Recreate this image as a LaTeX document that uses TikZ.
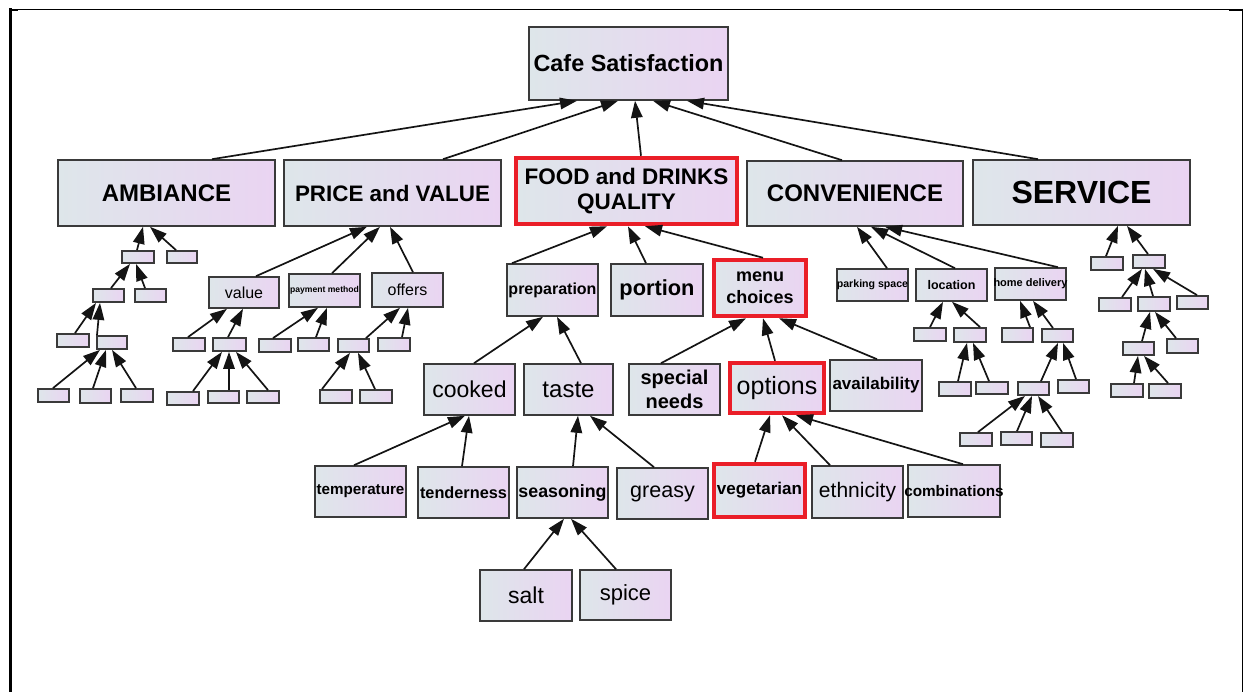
\documentclass[tikz,border=0pt]{standalone}
\usepackage{fontspec}
\setmainfont{Liberation Sans}
\usetikzlibrary{arrows.meta}

\definecolor{boxL}{RGB}{222,230,234}
\definecolor{boxR}{RGB}{234,212,242}
\definecolor{boxline}{RGB}{58,58,58}
\definecolor{hotred}{RGB}{234,30,40}
\definecolor{wire}{RGB}{20,20,20}

% font size in pt with matching leading
\newcommand\fs[1]{\fontsize{#1}{#1}\selectfont}
% text that may spill past its box without widening it
\newcommand\ovl[1]{\makebox[0pt]{#1}}

\tikzset{
  box/.style={draw=boxline, line width=1.6pt, left color=boxL, right color=boxR,
              inner sep=0pt, text=black},
  hot/.style={box, draw=hotred, line width=4.5pt},
  leaf/.style={box, line width=1.8pt},
  % a box given by its left, top, right and bottom edges
  span/.style n args={4}{minimum width={(#3-#1)*1pt}, minimum height={(#4-#2)*1pt},
                         at={({(#1+#3)/2},{(#2+#4)/2})}},
  arr/.style={draw=wire, line width=1.7pt,
              -{Triangle[length=17pt 0 0,width=11.5pt 0 0]}},
}

% small unlabelled box given by its corners
\newcommand\leaf[5]{\node[leaf, span={#2}{#3}{#4}{#5}] (#1) {};}
% arrow from the top of a child to the bottom of its parent
\newcommand\link[4]{\draw[arr] ([xshift=#2pt]#1.north) -- ([xshift=#4pt]#3.south);}

\begin{document}
\begin{tikzpicture}[x=1pt,y=-1pt]
\useasboundingbox (0,0) rectangle (1245,692);

% page frame
\draw[line width=1.2pt] (10,9.5) -- (1243,9.5);
\draw[line width=2.6pt] (10.5,8.5) -- (10.5,692);
\draw[line width=1.6pt] (1242.5,9) -- (1242.5,692);
\draw[line width=2.2pt] (10,9.8) -- (18,9.8);
\draw[line width=2.2pt] (1229,9.8) -- (1243,9.8);

% root and main factors
\node[box, span={529}{27}{728}{100}, font=\bfseries\fs{23.4}] (root) {Cafe Satisfaction};
\node[box, span={58}{160}{275}{226}, font=\bfseries\fs{24}] (amb) {AMBIANCE};
\node[box, span={284}{160}{501}{226}, font=\bfseries\fs{22.4}] (price) {PRICE and VALUE};
\node[hot, span={516}{158}{737}{224}, font=\bfseries\fontsize{22.5}{25}\selectfont, align=center] (food) {FOOD and DRINKS\\QUALITY};
\node[box, span={747}{161}{963}{226}, font=\bfseries\fs{24}] (conv) {CONVENIENCE};
\node[box, span={973}{160}{1190}{225}, font=\bfseries\fs{32}] (serv) {SERVICE};

% food and drinks branch
\node[box, span={507}{264}{598}{316}, font=\bfseries\fs{16}] (prep) {preparation};
\node[box, span={611}{264}{703}{316}, font=\bfseries\fs{21.8}] (portion) {portion};
\node[hot, span={714}{260}{806}{316}, font=\bfseries\fontsize{18}{22}\selectfont, align=center] (menu) {menu\\choices};
\node[box, span={424}{364}{515}{415}, font=\fs{23}] (cooked) {cooked};
\node[box, span={524}{364}{613}{415}, font=\fs{24}] (taste) {taste};
\node[box, span={629}{364}{720}{415}, font=\bfseries\fontsize{20}{24}\selectfont, align=center] (special) {special\\needs};
\node[hot, span={730}{363}{824}{413}, font=\fs{25}] (options) {options};
\node[box, span={830}{360}{922}{411}, font=\bfseries\fs{17}] (avail) {availability};
\node[box, span={315}{466}{406}{517}, font=\bfseries\fs{15.2}] (temp) {temperature};
\node[box, span={418}{467}{509}{518}, font=\bfseries\fs{16.3}] (tender) {tenderness};
\node[box, span={517}{467}{608}{518}, font=\bfseries\fs{17.8}] (season) {seasoning};
\node[box, span={617}{468}{708}{519}, font=\fs{21.5}] (greasy) {greasy};
\node[hot, span={714}{464}{805}{517}, font=\bfseries\fs{17}] (veg) {\ovl{vegetarian}};
\node[box, span={812}{466}{903}{518}, font=\fs{21}] (ethnic) {ethnicity};
\node[box, span={908}{465}{1000}{517}, font=\bfseries\fs{15.3}] (combo) {\ovl{combinations}};
\node[box, span={480}{570}{572}{621}, font=\fs{23}] (salt) {salt};
\node[box, span={580}{570}{671}{620}, font=\fs{22}] (spice) {spice};

% price and value branch
\node[box, span={209}{277}{279}{308}, font=\fs{16}] (value) {value};
\node[box, span={289}{274}{360}{307}, font=\bfseries\fs{8.6}] (paym) {\ovl{payment method}};
\node[box, span={372}{273}{443}{307}, font=\fs{16}] (offers) {offers};
\leaf{p1}{173}{338}{205}{351}
\leaf{p2}{213}{338}{246}{351}
\leaf{p3}{259}{339}{291}{352}
\leaf{p4}{298}{338}{329}{351}
\leaf{p5}{338}{339}{369}{352}
\leaf{p6}{378}{338}{410}{351}
\leaf{p7}{167}{392}{199}{405}
\leaf{p8}{208}{391}{239}{403}
\leaf{p9}{247}{391}{279}{403}
\leaf{p10}{320}{390}{352}{403}
\leaf{p11}{360}{390}{392}{403}

% ambiance branch
\leaf{a1}{122}{251}{154}{263}
\leaf{a2}{167}{251}{197}{263}
\leaf{a3}{93}{289}{124}{302}
\leaf{a4}{135}{289}{166}{302}
\leaf{a5}{57}{334}{89}{347}
\leaf{a6}{97}{336}{127}{349}
\leaf{a7}{38}{389}{69}{402}
\leaf{a8}{80}{389}{111}{403}
\leaf{a9}{121}{389}{153}{402}

% convenience branch
\node[box, span={837}{269}{908}{301}, font=\bfseries\fs{10.6}] (park) {\ovl{parking space}};
\node[box, span={916}{269}{987}{301}, font=\bfseries\fs{12.5}] (loc) {location};
\node[box, span={995}{268}{1066}{300}, font=\bfseries\fs{11}] (home) {\ovl{home delivery}};
\leaf{c1}{914}{328}{946}{341}
\leaf{c2}{954}{328}{986}{342}
\leaf{c3}{1002}{328}{1033}{342}
\leaf{c4}{1042}{329}{1073}{342}
\leaf{c5}{939}{382}{971}{396}
\leaf{c6}{976}{382}{1008}{394}
\leaf{c7}{1018}{382}{1049}{395}
\leaf{c8}{1058}{380}{1089}{393}
\leaf{c9}{960}{433}{992}{446}
\leaf{c10}{1001}{432}{1032}{445}
\leaf{c11}{1041}{433}{1073}{447}

% service branch
\leaf{s1}{1091}{257}{1123}{270}
\leaf{s2}{1133}{255}{1165}{268}
\leaf{s3}{1099}{298}{1131}{311}
\leaf{s4}{1138}{297}{1170}{311}
\leaf{s5}{1177}{296}{1208}{309}
\leaf{s6}{1123}{342}{1154}{355}
\leaf{s7}{1167}{339}{1198}{353}
\leaf{s8}{1111}{384}{1143}{397}
\leaf{s9}{1149}{384}{1181}{398}

% connectors: main factors
\link{amb}{45.5}{root}{-51.5}
\link{price}{50.5}{root}{-10.5}
\link{food}{14.5}{root}{6.5}
\link{conv}{-13}{root}{24.5}
\link{serv}{-43.5}{root}{58.5}

% connectors: food and drinks
\link{prep}{-40.5}{food}{-19.5}
\link{portion}{-11}{food}{1.5}
\link{menu}{3}{food}{18.5}
\link{cooked}{4.5}{prep}{-9.5}
\link{taste}{12.5}{prep}{4.5}
\link{special}{-13.5}{menu}{-14}
\link{options}{-2}{menu}{3}
\link{avail}{1}{menu}{19}
\link{temp}{-6.5}{cooked}{-4.5}
\link{tender}{-1.5}{cooked}{-0.5}
\link{season}{10.5}{taste}{9.5}
\link{greasy}{-8.5}{taste}{21.5}
\link{veg}{-4.5}{options}{-7}
\link{ethnic}{-27.5}{options}{5}
\link{combo}{9}{options}{19}
\link{salt}{-2}{season}{1.5}
\link{spice}{-9.5}{season}{8.5}

% connectors: ambiance
\link{a1}{-1}{amb}{-23.5}
\link{a2}{-6}{amb}{-16.5}
\link{a3}{2.5}{a1}{-8}
\link{a4}{-5.5}{a1}{-2}
\link{a5}{2}{a3}{-12.5}
\link{a6}{-15}{a3}{-8.5}
\link{a7}{-0.5}{a6}{-12}
\link{a8}{-2.5}{a6}{-6}
\link{a9}{-1}{a6}{0}

% connectors: price and value
\link{value}{12}{price}{-25.5}
\link{paym}{7.5}{price}{-12.5}
\link{offers}{5.5}{price}{-2.5}
\link{p1}{-1}{value}{-17}
\link{p2}{-1.5}{value}{-1}
\link{p3}{-2}{paym}{-6.5}
\link{p4}{2.5}{paym}{2.5}
\link{p5}{12.5}{offers}{-7.5}
\link{p6}{8}{offers}{0.5}
\link{p7}{10}{p2}{-7.5}
\link{p8}{5.5}{p2}{-0.5}
\link{p9}{5}{p2}{6.5}
\link{p10}{-14}{p5}{-3.5}
\link{p11}{-1}{p5}{4.5}

% connectors: convenience
\link{park}{14.5}{conv}{2}
\link{loc}{3.5}{conv}{16}
\link{home}{27.5}{conv}{30}
\link{c1}{0}{loc}{-8.5}
\link{c2}{10}{loc}{0.5}
\link{c3}{12.5}{home}{-10.5}
\link{c4}{-4.5}{home}{2.5}
\link{c5}{3}{c2}{-3}
\link{c6}{-3}{c2}{3}
\link{c7}{7.5}{c4}{0.5}
\link{c8}{2.5}{c4}{5.5}
\link{c9}{2}{c7}{-8.5}
\link{c10}{0.5}{c7}{-1.5}
\link{c11}{5}{c7}{4.5}

% connectors: service
\link{s1}{-1}{serv}{36.5}
\link{s2}{-1}{serv}{45.5}
\link{s3}{7}{s2}{-7}
\link{s4}{-1}{s2}{-4}
\link{s5}{4.5}{s2}{4}
\link{s6}{3.5}{s4}{-4}
\link{s7}{-6.5}{s4}{1}
\link{s8}{7}{s6}{-0.5}
\link{s9}{3}{s6}{5.5}
\end{tikzpicture}
\end{document}
